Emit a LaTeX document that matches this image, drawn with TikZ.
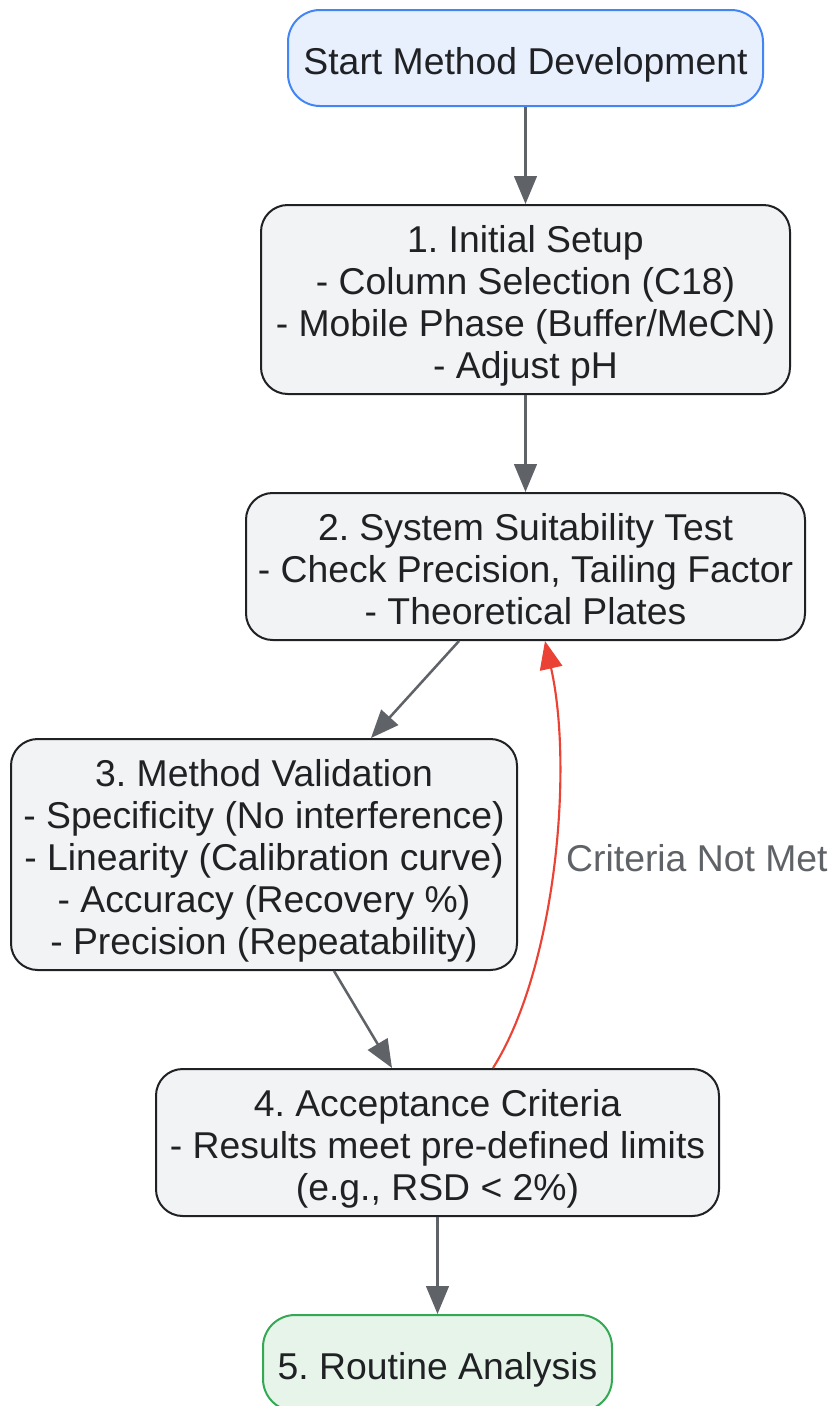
\documentclass[tikz,border=0pt]{standalone}
\usepackage{fontspec}
\setmainfont{Liberation Sans}
\frenchspacing
\usetikzlibrary{arrows.meta,calc}
\definecolor{ink}{HTML}{202124}
\definecolor{boxfill}{HTML}{F1F3F4}
\definecolor{startfill}{HTML}{E8F0FE}
\definecolor{startline}{HTML}{4285F4}
\definecolor{endfill}{HTML}{E6F4EA}
\definecolor{endline}{HTML}{34A853}
\definecolor{flowgray}{HTML}{5F6368}
\definecolor{backred}{HTML}{EA4335}
\begin{document}
\begin{tikzpicture} [x=0.75pt, y=-0.75pt, inner sep=0pt, align=flush center, text=ink, font=\fontsize{28}{31.5}\selectfont,
                box/.style={draw=ink, fill=boxfill, line width=1.5pt, rounded corners=20pt, rectangle,
                    execute at begin node={\rule{0pt}{31pt}}, execute at end node={\rule[-7pt]{0pt}{7pt}}},
                startbox/.style={box, draw=startline, fill=startfill, rounded corners=24pt},
                endbox/.style={box, draw=endline, fill=endfill, rounded corners=24pt},
                flow/.style={draw=flowgray, line width=1.9pt, -{Triangle[length=21pt, width=17pt]}},
                back/.style={draw=backred, line width=1.6pt, -{Triangle[length=21pt, width=17pt]}}]
                \useasboundingbox (0,0) rectangle (833,1406);
                \node (Start) [startbox, text width=356.25pt, minimum height=72pt] at (525.5,58) {Start Method Development};
                \node (Setup) [box, text width=396.75pt, minimum height=141.75pt] at (525.5,299.5) {1. Initial Setup\\- Column Selection (C18)\\- Mobile Phase (Buffer/MeCN)\\- Adjust pH};
                \node (Suitability) [box, text width=419.25pt, minimum height=110.25pt] at (525.5,566.5) {2. System Suitability Test\\- Check Precision, Tailing Factor\\- Theoretical Plates};
                \node (Validation) [box, text width=379.5pt, minimum height=173.25pt] at (264,854.5) {3. Method Validation\\- Specificity (No interference)\\- Linearity (Calibration curve)\\- Accuracy (Recovery \%)\\- Precision (Repeatability)};
                \node (Acceptance) [box, text width=422.25pt, minimum height=110.25pt] at (437.5,1142.5) {4. Acceptance Criteria\\- Results meet pre-defined limits\\(e.g., RSD < 2\%)};
                \node (Routine) [endbox, text width=261.75pt, minimum height=72pt] at (437.5,1363) {5. Routine Analysis};

                \draw[flow] (Start) -- (Setup);
                \draw[flow] (Setup) -- (Suitability);
                \draw[flow] ($(Suitability.south)+(-66.5,0)$) -- ($(Validation.north)+(107,0)$);
                \draw[flow] ($(Validation.south)+(70,0)$) -- ($(Acceptance.north)+(-45.5,0)$);
                \draw[flow] (Acceptance) -- (Routine);
                \draw[back] ($(Acceptance.north)+(55.5,0)$) .. controls (555,970) and (574,770) .. node[pos=0.5, anchor=west, xshift=9pt, yshift=6pt, text=flowgray]{Criteria Not Met} ($(Suitability.south)+(19.5,0)$);
            \end{tikzpicture}
\end{document}
